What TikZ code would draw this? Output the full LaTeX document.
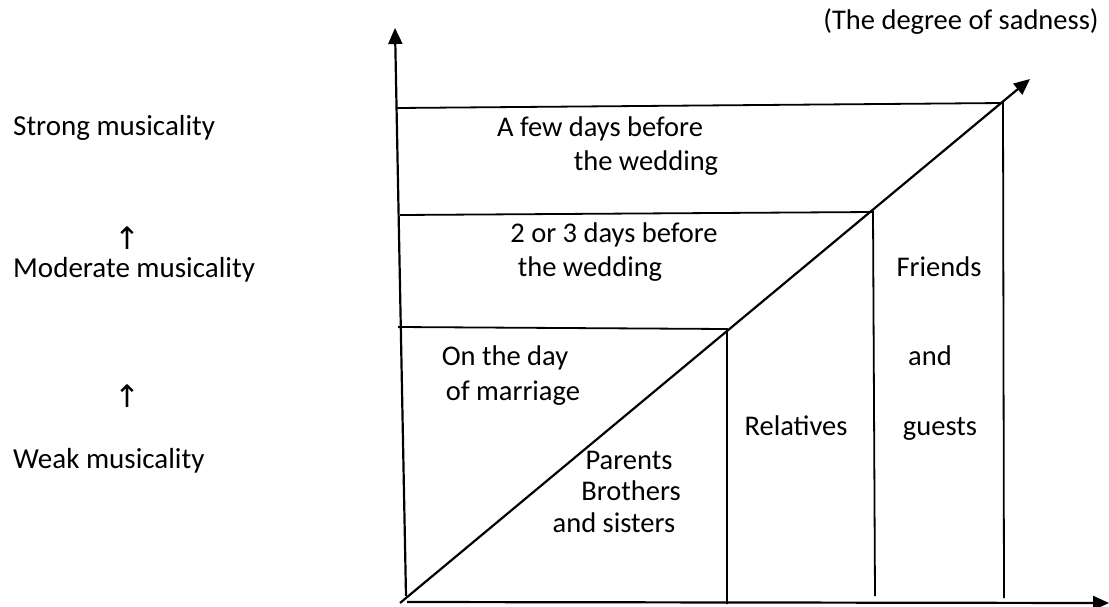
\documentclass[tikz,border=0pt]{standalone}
\usepackage{fontspec}
\setmainfont{Carlito}
\newfontfamily\arrowfont{DejaVu Sans}
\usetikzlibrary{arrows.meta, positioning}

\begin{document}
\begin{tikzpicture}[
    x=1pt, y=-1pt,
    axis/.style={line width=2.2pt, -{Triangle[length=16pt, width=14pt]}},
    part/.style={line width=1.8pt},
    txt/.style={font=\fontsize{28.5}{32}\selectfont, inner sep=0pt, anchor=mid},
    side/.style={font=\fontsize{29}{32}\selectfont, inner sep=0pt, anchor=mid west},
    uparr/.style={font=\arrowfont\fontsize{31}{33}\selectfont, inner sep=0pt},
  ]
  \useasboundingbox (0,0) rectangle (1109,606);

  % Axes
  \coordinate (ybot) at (406,596);
  \coordinate (ytop) at (395,28);
  \coordinate (xbot) at (407,602);
  \coordinate (xtip) at (1109,603);
  \coordinate (dbot) at (400,603);
  \coordinate (dtip) at (1030,79);
  \draw[axis] (ybot) -- (ytop);
  \draw[axis] (xbot) -- (xtip);
  \draw[axis] (dbot) -- (dtip);

  % Time bands
  \coordinate (l3) at (397,108);
  \coordinate (c3) at (1003,103);
  \coordinate (b3) at (1004,598);
  \coordinate (l2) at (400,215);
  \coordinate (c2) at (873,212);
  \coordinate (b2) at (875,596);
  \coordinate (l1) at (398,327);
  \coordinate (c1) at (727,329);
  \coordinate (b1) at (727,604);
  \draw[part] (l3) -- (c3) -- (b3);
  \draw[part] (l2) -- (c2) -- (b2);
  \draw[part] (l1) -- (c1) -- (b1);

  % Musicality scale
  \node[side] (strong) at (13,133) {Strong musicality};
  \node[uparr] (up1) at (127,238) {↑};
  \node[side] (moderate) at (13,275) {Moderate musicality};
  \node[uparr] (up2) at (127,396) {↑};
  \node[side] (weak) at (13,466) {Weak musicality};

  % Labels
  \node[txt] (title) at (961,27) {(The degree of sadness)};
  \node[txt] (few1) at (600,134) {A few days before};
  \node[txt] (few2) at (646,168) {the wedding};
  \node[txt] (two1) at (614,240) {2 or 3 days before};
  \node[txt] (two2) at (590,274) {the wedding};
  \node[txt] (day1) at (505,363) {On the day};
  \node[txt] (day2) at (513,398) {of marriage};
  \node[txt] (parents) at (629,467) {Parents};
  \node[txt] (brothers) at (631,498) {Brothers};
  \node[txt] (sisters) at (614,530) {and sisters};
  \node[txt] (relatives) at (796,433) {Relatives};
  \node[txt] (friends) at (939,274) {Friends};
  \node[txt] (friendsand) at (930,363) {and};
  \node[txt] (guests) at (940,433) {guests};

\end{tikzpicture}
\end{document}
